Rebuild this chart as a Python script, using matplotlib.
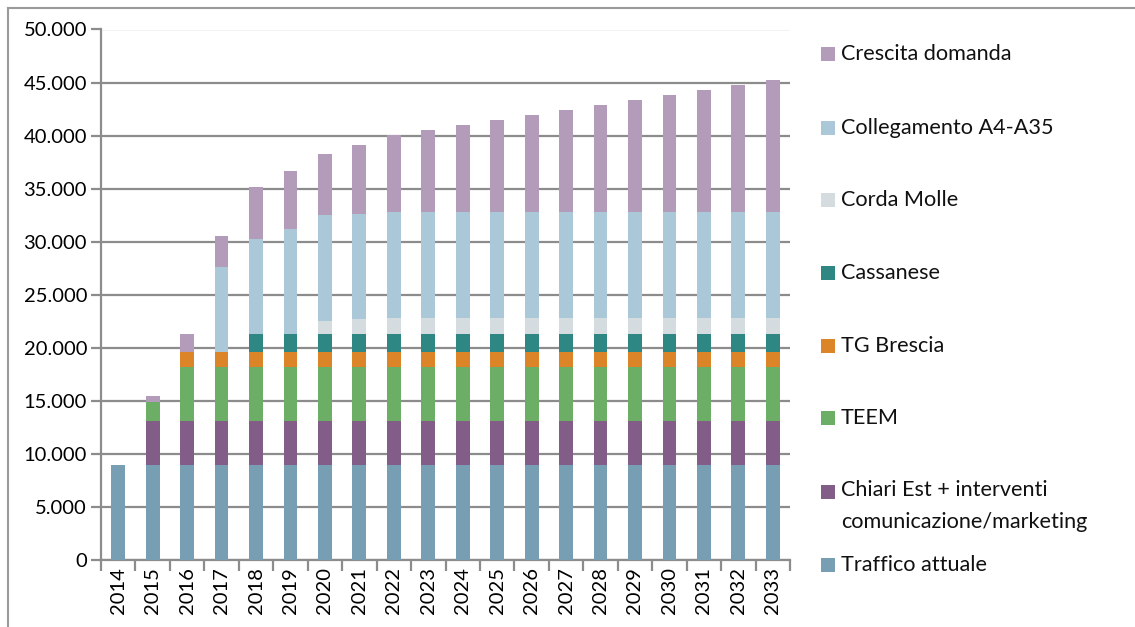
import matplotlib
matplotlib.use("Agg")
import matplotlib.pyplot as plt
from matplotlib.patches import Rectangle
from matplotlib.lines import Line2D
from matplotlib.ticker import FuncFormatter, MultipleLocator, FixedLocator
import numpy as np

years = [str(y) for y in range(2014, 2034)]

traffico = [9000] * 20
chiari = [0] + [4100] * 19
teem = [0, 1750] + [5050] * 18
tg_brescia = [0, 0] + [1430] * 18
cassanese = [0, 0, 0, 0] + [1700] * 16
corda_molle = [0] * 6 + [1200, 1400] + [1500] * 12
collegamento = [0, 0, 0, 8000, 9000, 9950, 10000, 9950] + [10000] * 12
crescita = [0, 580, 1680, 3000, 4900, 5400, 5800, 6500,
            7250, 7750, 8250, 8700, 9150, 9650, 10100, 10600, 11050, 11500, 11950, 12450]

series_names = ["Traffico attuale", "Chiari Est + interventi\ncomunicazione/marketing",
                "TEEM", "TG Brescia", "Cassanese", "Corda Molle",
                "Collegamento A4-A35", "Crescita domanda"]
series_vals = [traffico, chiari, teem, tg_brescia, cassanese, corda_molle, collegamento, crescita]
colors = ["#789EB4", "#825D87", "#6DAE66", "#DC8428", "#2E8783", "#D4DCE0", "#ABC8D9", "#B39CB9"]

plt.rcParams['font.family'] = ['Lato', 'DejaVu Sans']

W, H = 1135, 627
fig = plt.figure(figsize=(W / 100, H / 100), dpi=100)
ax = fig.add_axes([101 / W, 1 - 560 / H, (790 - 101) / W, (560 - 29.5) / H])

x = np.arange(len(years))
bottom = np.zeros(len(years))
for vals, col in zip(series_vals, colors):
    v = np.array(vals, dtype=float)
    ax.bar(x, v, width=0.4, bottom=bottom, color=col, edgecolor='none', zorder=3)
    bottom += v

grid_col = "#8C8C8C"
ax.set_ylim(0, 50000)
ax.set_xlim(-0.5, len(years) - 0.5)
ax.yaxis.set_major_locator(MultipleLocator(5000))
ax.yaxis.set_major_formatter(FuncFormatter(lambda v, p: f"{int(v):,}".replace(",", ".")))
ax.grid(axis='y', color=grid_col, linewidth=1.6, zorder=0)
ax.set_axisbelow(True)

for s in ['top', 'right']:
    ax.spines[s].set_visible(False)
for s in ['left', 'bottom']:
    ax.spines[s].set_color(grid_col)
    ax.spines[s].set_linewidth(1.6)

ax.set_xticks(x)
ax.set_xticklabels(years, rotation=90, fontsize=14.5)
ax.tick_params(axis='x', which='major', length=0, pad=5)
ax.xaxis.set_minor_locator(FixedLocator(np.arange(-0.5, len(years), 1.0)))
ax.tick_params(axis='x', which='minor', length=8, width=1.6, color=grid_col, direction='out')
ax.tick_params(axis='y', which='major', length=7, width=1.6, color=grid_col, labelsize=14.5, pad=3)

# Legend (manual, top to bottom: reverse series order)
leg_y = [54, 128, 200, 273, 346, 418, 492, 565]
text_y = [54, 128, 200, 273, 346, 418, 506.5, 565]
for name, col, yy, ty in zip(series_names[::-1], colors[::-1], leg_y, text_y):
    fig.patches.append(Rectangle((821 / W, 1 - (yy + 7) / H), 14 / W, 14 / H,
                                 transform=fig.transFigure, facecolor=col, edgecolor='none'))
    fig.text(841 / W, 1 - ty / H, name, fontsize=15.6, va='center', ha='left',
             linespacing=1.75, color="#111111")

# outer frame
fig.add_artist(Line2D([8 / W, 8 / W], [0, 1 - 8 / H], transform=fig.transFigure, color="#9A9A9A", lw=1.5))
fig.add_artist(Line2D([8 / W, 1], [1 - 8 / H, 1 - 8 / H], transform=fig.transFigure, color="#9A9A9A", lw=1.5))

fig.savefig("out.png", dpi=100)
